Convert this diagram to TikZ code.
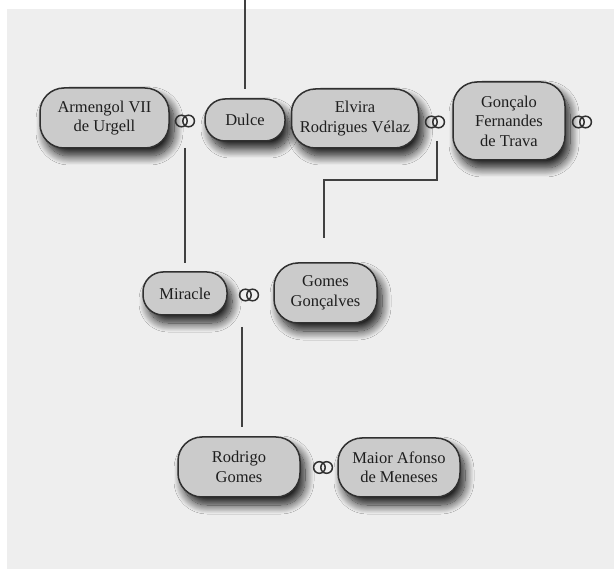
\documentclass[tikz,border=0pt]{standalone}
\usepackage{fontspec}
\setmainfont{Liberation Serif}
\usetikzlibrary{shadows.blur}
\definecolor{bgc}{HTML}{EEEEEE}
\definecolor{boxc}{HTML}{CBCBCB}
\definecolor{edgec}{HTML}{303030}
\definecolor{linec}{HTML}{404040}
\definecolor{txtc}{HTML}{1E1E1E}
\tikzset{
  person/.style={draw=edgec, line width=1.5pt, fill=boxc, rounded corners=#1,
    align=center, text=txtc, inner sep=0pt,
    font=\fontsize{16.5}{19.5}\selectfont,
    blur shadow={shadow xshift=5pt, shadow yshift=-8pt, shadow blur radius=9pt,
      shadow opacity=90, shadow blur steps=16}},
  person/.default=24pt,
  ring/.style={inner sep=0pt, minimum width=24pt, minimum height=18pt,
    path picture={
      \draw[edgec, line width=1.5pt] ([xshift=-3.6pt]path picture bounding box.center) circle (5.8pt);
      \draw[edgec, line width=1.5pt] ([xshift=3.6pt]path picture bounding box.center) circle (5.8pt);}},
  link/.style={draw=linec, line width=1.4pt}
}
\begin{document}
\begin{tikzpicture}[x=1pt, y=-1pt]
\useasboundingbox (0,0) rectangle (614,569);
\fill[white] (0,0) rectangle (614,569);
\fill[bgc] (7,9) rectangle (614,569);

% nodes
\node[person, minimum width=129pt, minimum height=60pt] (arm) at (104.5,118) {Armengol VII\\de Urgell};
\node[person=20pt, minimum width=80pt, minimum height=42pt] (dul) at (245,120) {Dulce};
\node[person, minimum width=127pt, minimum height=59pt] (elv) at (355,118.5) {Elvira\\Rodrigues Vélaz};
\node[person, minimum width=112pt, minimum height=78pt] (gon) at (509,121) {Gonçalo\\Fernandes\\de Trava};
\node[person=20pt, minimum width=84pt, minimum height=43pt] (mir) at (185,293.5) {Miracle};
\node[person, minimum width=103pt, minimum height=60pt] (gom) at (325.5,293) {Gomes\\Gonçalves};
\node[person, minimum width=122pt, minimum height=60pt] (rod) at (239,467) {Rodrigo\\Gomes};
\node[person, minimum width=122pt, minimum height=59pt] (mai) at (399,467.5) {Maior Afonso\\de Meneses};

% rings
\node[ring] (r1) at (185,121) {};
\node[ring] (r2) at (435,122) {};
\node[ring] (r3) at (582,122) {};
\node[ring] (r4) at (249,295) {};
\node[ring] (r5) at (323,467.5) {};

% connector ends
\coordinate (top) at (245,0);
\coordinate (dulT) at (245,89);
\coordinate (r1B) at (185,148);
\coordinate (mirT) at (185,263);
\coordinate (r2B) at (437,141);
\coordinate (gomT) at (324,238);
\coordinate (r4B) at (242,327);
\coordinate (rodT) at (242,427);

\draw[link] (top) -- (dulT);
\draw[link] (r1B) -- (mirT);
\draw[link] (r2B) |- (324,180) -- (gomT);
\draw[link] (r4B) -- (rodT);
\end{tikzpicture}
\end{document}
